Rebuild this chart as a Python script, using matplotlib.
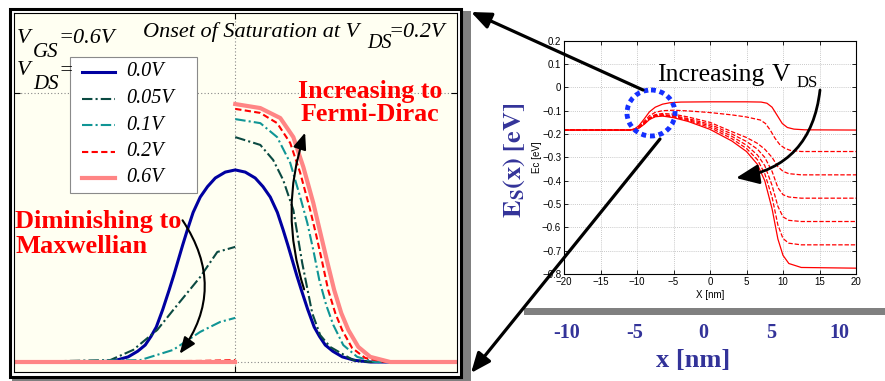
import matplotlib
matplotlib.use("Agg")
import matplotlib.pyplot as plt
from matplotlib.patches import Rectangle, Ellipse, FancyArrowPatch
from matplotlib.lines import Line2D

plt.rcParams["mathtext.fontset"] = "stix"
SERIF = "Liberation Serif"
SANS = "Liberation Sans"

# ---------------- left panel: carrier distribution at the barrier top ----------------
vds_labels = ["0.0V", "0.05V", "0.1V", "0.2V", "0.6V"]

# 0.0 V : symmetric
k_00 = [-1.0, -0.609, -0.54, -0.483, -0.44, -0.406, -0.38, -0.356, -0.327, -0.298, -0.277,
        -0.257, -0.237, -0.216, -0.19, -0.158, -0.125, -0.09, -0.045, 0.0,
        0.045, 0.09, 0.125, 0.158, 0.19, 0.216, 0.237, 0.257, 0.277, 0.298, 0.327,
        0.356, 0.38, 0.406, 0.44, 0.483, 0.54, 0.609, 1.0]
f_00 = [0.0, 0.0, 0.006, 0.019, 0.04, 0.063, 0.095, 0.13, 0.195, 0.268, 0.323,
        0.379, 0.435, 0.491, 0.556, 0.613, 0.652, 0.684, 0.706, 0.714,
        0.706, 0.684, 0.652, 0.613, 0.556, 0.491, 0.435, 0.379, 0.323, 0.268, 0.195,
        0.13, 0.095, 0.063, 0.04, 0.019, 0.006, 0.0, 0.0]

# 0.05 V
k_05_neg = [-1.0, -0.564, -0.46, -0.352, -0.28, -0.158, -0.081, 0.0]
f_05_neg = [0.0, 0.007, 0.045, 0.119, 0.193, 0.316, 0.409, 0.428]
k_05_pos = [0.0, 0.113, 0.171, 0.216, 0.262, 0.302, 0.347, 0.383, 0.428, 0.532, 0.609, 1.0]
f_05_pos = [0.836, 0.807, 0.751, 0.677, 0.565, 0.368, 0.182, 0.10, 0.056, 0.007, 0.0, 0.0]

# 0.1 V
k_10_neg = [-1.0, -0.428, -0.28, -0.158, -0.068, 0.0]
f_10_neg = [0.0, 0.007, 0.045, 0.112, 0.149, 0.164]
k_10_pos = [0.0, 0.113, 0.189, 0.248, 0.293, 0.325, 0.352, 0.379, 0.41, 0.442, 0.487, 0.55, 0.631, 1.0]
f_10_pos = [0.903, 0.888, 0.836, 0.74, 0.613, 0.517, 0.416, 0.305, 0.212, 0.138, 0.063, 0.019, 0.0, 0.0]

# 0.2 V
k_20_neg = [-1.0, -0.158, 0.0]
f_20_neg = [0.0, 0.004, 0.007]
k_20_pos = [0.0, 0.113, 0.189, 0.248, 0.293, 0.338, 0.365, 0.392, 0.419, 0.451, 0.482, 0.527, 0.586, 0.676, 1.0]
f_20_pos = [0.941, 0.926, 0.888, 0.814, 0.703, 0.565, 0.472, 0.372, 0.268, 0.182, 0.119, 0.052, 0.015, 0.0, 0.0]

# 0.6 V
k_60_neg = [-1.0, 0.0]
f_60_neg = [0.0, 0.0]
k_60_pos = [0.0, 0.113, 0.203, 0.262, 0.307, 0.352, 0.383, 0.415, 0.446, 0.478, 0.51, 0.555, 0.609, 0.699, 1.0]
f_60_pos = [0.959, 0.944, 0.907, 0.836, 0.725, 0.591, 0.483, 0.372, 0.268, 0.182, 0.119, 0.056, 0.019, 0.0, 0.0]

# ---------------- right panel: conduction band profile Ec(x) ----------------
ec1_x = [-20, -11, -10.3, -9.7, -9, -8.3, -7.5, -6.5, -5.5, -4, 0, 5, 7, 7.8, 8.5, 9.2, 9.9, 10.6, 11.5, 13, 20]
ec1_y = [-0.183, -0.183, -0.178, -0.163, -0.135, -0.105, -0.085, -0.072, -0.066, -0.063, -0.062, -0.062,
         -0.063, -0.068, -0.085, -0.12, -0.155, -0.172, -0.179, -0.182, -0.183]
ec2_x = [-20, -11, -10.3, -9.7, -9, -8.3, -7.5, -6.5, -5, -3, 0, 3, 5, 6.9, 7.6, 8.25, 8.9, 9.6, 10.3, 11, 12.5, 20]
ec2_y = [-0.183, -0.183, -0.179, -0.167, -0.145, -0.122, -0.107, -0.10, -0.098, -0.101, -0.108, -0.118,
         -0.127, -0.14, -0.155, -0.183, -0.218, -0.247, -0.262, -0.27, -0.275, -0.275]
ec_x = [-20, -11, -10.3, -9.7, -9, -8.3, -7.5, -6.5, -5, -3, 0, 3, 5, 6.5, 7.5, 8.5, 9.3, 10, 10.8, 12.5, 20]
ec3_y = [-0.183, -0.183, -0.18, -0.17, -0.15, -0.13, -0.117, -0.112, -0.115, -0.127, -0.15, -0.19, -0.215,
         -0.24, -0.265, -0.30, -0.34, -0.36, -0.37, -0.375, -0.375]
ec4_y = [-0.183, -0.183, -0.18, -0.171, -0.152, -0.132, -0.12, -0.117, -0.121, -0.134, -0.158, -0.20, -0.232,
         -0.265, -0.30, -0.36, -0.43, -0.46, -0.47, -0.475, -0.475]
ec5_y = [-0.183, -0.183, -0.18, -0.172, -0.154, -0.134, -0.122, -0.119, -0.124, -0.138, -0.165, -0.21, -0.248,
         -0.29, -0.335, -0.42, -0.51, -0.555, -0.57, -0.575, -0.575]
ec6_y = [-0.183, -0.183, -0.181, -0.173, -0.156, -0.136, -0.124, -0.121, -0.127, -0.142, -0.172, -0.22, -0.262,
         -0.31, -0.37, -0.47, -0.59, -0.648, -0.668, -0.675, -0.675]
ec7_y = [-0.183, -0.183, -0.181, -0.174, -0.158, -0.138, -0.126, -0.123, -0.13, -0.146, -0.18, -0.23, -0.275,
         -0.33, -0.40, -0.52, -0.65, -0.72, -0.755, -0.772, -0.775]

ec_yticks = [0.2, 0.1, 0, -0.1, -0.2, -0.3, -0.4, -0.5, -0.6, -0.7, -0.8]
ec_yticklabels = ["0.2", "0.1", "0", "\u22120.1", "\u22120.2", "\u22120.3", "\u22120.4",
                  "\u22120.5", "\u22120.6", "\u22120.7", "\u22120.8"]
ec_xticks = [-20, -15, -10, -5, 0, 5, 10, 15, 20]

slide_ticks = [-10, -5, 0, 5, 10]

# ---------------------------------------------------------------------------
W, H = 885, 381
fig = plt.figure(figsize=(8.85, 3.81), dpi=100, facecolor="white")

# left axes
axl = fig.add_axes([13.5 / W, 1 - 372 / H, (457 - 13.5) / W, (372 - 12.5) / H])
axl.set_facecolor("#fffff2")
axl.set_xlim(-1, 1)
axl.set_ylim(-0.0372, 1.2993)
axl.set_xticks([0])
axl.set_yticks([0, 1])
axl.set_xticklabels([])
axl.set_yticklabels([])
axl.tick_params(direction="in", length=4, width=0.8, top=True, right=True)
axl.grid(True, color="#888888", linestyle=(0, (1, 2)), linewidth=0.8)
for s in axl.spines.values():
    s.set_linewidth(0.8)

sty_00 = dict(color="#0000a0", linewidth=2.2, linestyle="-")
sty_05 = dict(color="#0b4a42", linewidth=1.5, linestyle=(0, (5, 1.5, 1, 1.5)))
sty_10 = dict(color="#109595", linewidth=1.5, linestyle=(0, (5, 1.5, 1, 1.5)))
sty_20 = dict(color="#ff0000", linewidth=1.5, linestyle=(0, (3, 1.6)))
sty_60 = dict(color="#ff8585", linewidth=3.0, linestyle="-")

axl.plot(k_00, f_00, **sty_00)
axl.plot(k_05_neg, f_05_neg, **sty_05)
axl.plot(k_05_pos, f_05_pos, **sty_05)
axl.plot(k_10_neg, f_10_neg, **sty_10)
axl.plot(k_10_pos, f_10_pos, **sty_10)
axl.plot(k_20_neg, f_20_neg, **sty_20)
axl.plot(k_20_pos, f_20_pos, **sty_20)
axl.plot(k_60_neg, f_60_neg, **sty_60)
axl.plot(k_60_pos, f_60_pos, **sty_60)

# right axes
axr = fig.add_axes([564 / W, 1 - 274 / H, (856 - 564) / W, (274 - 40.7) / H])
reds = [("-", ec1_x, ec1_y), ("--", ec2_x, ec2_y), ("--", ec_x, ec3_y), ("--", ec_x, ec4_y),
        ("--", ec_x, ec5_y), ("--", ec_x, ec6_y), ("-", ec_x, ec7_y)]
for ls, xs, ys in reds:
    if ls == "-":
        axr.plot(xs, ys, color="#ff0000", linewidth=0.9)
    else:
        axr.plot(xs, ys, color="#ff0000", linewidth=0.9, dashes=(3.5, 1.5))
axr.set_xlim(-20, 20)
axr.set_ylim(-0.8, 0.2)
axr.set_xticks(ec_xticks)
axr.set_yticks(ec_yticks)
axr.set_yticklabels(ec_yticklabels)
axr.tick_params(direction="in", length=3, width=0.6, top=True, right=True, labelsize=7, pad=2)
for lab in axr.get_xticklabels() + axr.get_yticklabels():
    lab.set_family(SANS)
axr.grid(True, color="#b8b8b8", linestyle=(0, (1, 1.5)), linewidth=0.6)
for s in axr.spines.values():
    s.set_linewidth(0.8)
axr.set_xlabel("X [nm]", fontsize=7, family=SANS, labelpad=2)
axr.set_ylabel("Ec [eV]", fontsize=7, family=SANS, labelpad=0)

# overlay in pixel units for frames, annotations and arrows
ov = fig.add_axes([0, 0, 1, 1], zorder=10)
ov.set_xlim(0, W)
ov.set_ylim(H, 0)
ov.axis("off")

# frame with drop shadow around the left panel
ov.add_patch(Rectangle((461, 11), 9.5, 370, color="#808080", lw=0))
ov.add_patch(Rectangle((12, 377), 458, 4, color="#808080", lw=0))
ov.add_patch(Rectangle((9.5, 8.5), 451.5, 368, fill=False, ec="black", lw=2.2))

# left-panel legend
leg_styles = [sty_00, sty_05, sty_10, sty_20, sty_60]
ov.add_patch(Rectangle((70, 57), 127, 136, fc="white", ec="#8a8a8a", lw=0.8))
for i, (lab, st) in enumerate(zip(vds_labels, leg_styles)):
    yy = 72 + 26.5 * i
    ov.add_line(Line2D([82, 115], [yy, yy], **st))
    ov.text(126, yy, lab, fontsize=14.5, family=SERIF, style="italic", va="center", ha="left")

# left-panel labels
it = dict(family=SERIF, style="italic", va="baseline", ha="left", zorder=1)
ov.text(17, 43, "V", fontsize=16, **it)
ov.text(33, 57, "GS", fontsize=15, **it)
ov.text(58, 43, "=0.6V", fontsize=16, **it)
ov.text(17, 75, "V", fontsize=16, **it)
ov.text(33, 89, "DS", fontsize=15, **it)
ov.text(58, 75, "=", fontsize=16, **it)
ov.text(143, 37, "Onset of Saturation at V", fontsize=16, **it)
ov.text(367, 48, "DS", fontsize=14.5, **it)
ov.text(388, 37, "=0.2V", fontsize=16, **it)

ov.text(370, 103, "Increasing to\nFermi-Dirac", fontsize=18.7, family=SERIF, weight="bold",
        color="#ff0000", ha="center", va="center", linespacing=1.05)
ov.text(15, 234, "Diminishing to\nMaxwellian", fontsize=19, family=SERIF, weight="bold",
        color="#ff0000", ha="left", va="center", linespacing=1.1)

ov.add_patch(FancyArrowPatch((305, 292), (306, 130), connectionstyle="arc3,rad=-0.17",
                             arrowstyle="-|>,head_length=0.55,head_width=0.22",
                             mutation_scale=18, color="black", lw=1.5))
ov.add_patch(FancyArrowPatch((181, 218), (178, 356), connectionstyle="arc3,rad=-0.36",
                             arrowstyle="-|>,head_length=0.55,head_width=0.22",
                             mutation_scale=18, color="black", lw=1.5))

# right-hand slide decorations
blue = "#333399"
ov.add_patch(Rectangle((524, 308), 361, 7, color="#808080", lw=0))
for v in slide_ticks:
    ov.text(703 + 13.6 * v, 333, str(v), fontsize=14.5, family=SERIF, weight="bold",
            color=blue, ha="center", va="center")
ov.text(693, 361, "x [nm]", fontsize=19, family=SERIF, weight="bold", color=blue,
        ha="center", va="center")
ov.text(514, 160, r"$\mathbf{E_{S}(x)\ [eV]}$", fontsize=19, color=blue, rotation=90,
        ha="center", va="center")

ov.text(657, 81, "Increasing", fontsize=18.5, family=SERIF, va="baseline", ha="left",
        bbox=dict(fc="white", ec="none", pad=0.5))
ov.text(772, 81, "V", fontsize=18.5, family=SERIF, va="baseline", ha="left",
        bbox=dict(fc="white", ec="none", pad=0.5))
ov.text(797, 87, "DS", fontsize=12, family=SERIF, va="baseline", ha="left")

ov.add_patch(Ellipse((651, 113), 48, 46, fill=False, ec="#1530ff", lw=3.5,
                     linestyle=(0, (1, 0.8))))

ov.add_patch(FancyArrowPatch((643, 90), (471, 12), arrowstyle="-|>,head_length=0.6,head_width=0.25",
                             mutation_scale=20, color="black", lw=2.3, shrinkA=0, shrinkB=0))
ov.add_patch(FancyArrowPatch((660, 139), (471, 373), arrowstyle="-|>,head_length=0.6,head_width=0.25",
                             mutation_scale=20, color="black", lw=2.3, shrinkA=0, shrinkB=0))
ov.add_patch(FancyArrowPatch((820, 90), (736, 178), connectionstyle="arc3,rad=-0.38",
                             arrowstyle="-|>,head_length=0.7,head_width=0.3",
                             mutation_scale=20, color="black", lw=2.0, shrinkA=0, shrinkB=0))

fig.savefig("out.png", dpi=100, facecolor="white")
